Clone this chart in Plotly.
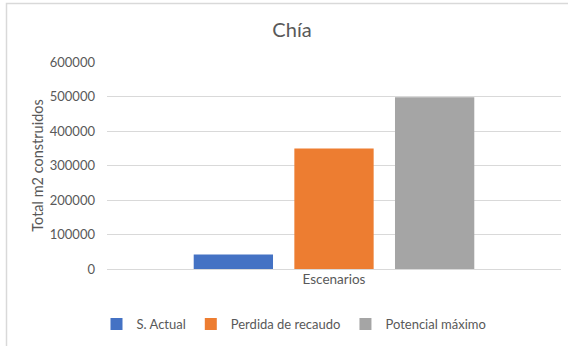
import plotly.graph_objects as go

categories = ["Escenarios"]
series_names = ["S. Actual", "Perdida de recaudo", "Potencial máximo"]
series_values = [[42000], [349000], [498000]]
colors = ["#4472C4", "#ED7D31", "#A5A5A5"]
y_ticks = [0, 100000, 200000, 300000, 400000, 500000, 600000]

W, H = 568, 346
L, R, T, B = 107, 7, 62, 77
pw, ph = W - L - R, H - T - B

FONT = "Lato"
TXT = "#595959"

fig = go.Figure()
for name, vals, c in zip(series_names, series_values, colors):
    fig.add_trace(go.Bar(x=categories, y=vals, name=name, marker=dict(color=c, line=dict(width=0))))

def px_x(x):
    return (x - L) / pw

def px_y(y):
    return (H - B - y) / ph

fig.update_layout(
    width=W, height=H,
    margin=dict(l=L, r=R, t=T, b=B, autoexpand=False),
    paper_bgcolor="white", plot_bgcolor="white",
    barmode="group", bargap=0.335, bargroupgap=0.212,
    font=dict(family=FONT, color=TXT, size=13),
    title=dict(text="Chía", x=292 / W, y=1 - 30 / H, xref="container", yref="container",
               xanchor="center", yanchor="middle", font=dict(size=20, color=TXT, family=FONT)),
    showlegend=True,
    legend=dict(orientation="h", x=294 / W, y=1 - 324 / H, xref="container", yref="container",
                xanchor="center", yanchor="middle", font=dict(size=13, color=TXT, family=FONT),
                itemwidth=30, traceorder="normal"),
    xaxis=dict(type="category", range=[-0.5, 0.5], showgrid=False, zeroline=False,
               showline=False, ticks="", tickfont=dict(size=13.5, color=TXT), fixedrange=True),
    yaxis=dict(range=[0, 600000], tickvals=y_ticks, tickformat="d", showgrid=True,
               gridcolor="#D9D9D9", gridwidth=1, zeroline=True, zerolinecolor="#D9D9D9",
               zerolinewidth=1, showline=False, ticks="", ticklabelstandoff=11,
               tickfont=dict(size=13, color=TXT),
               title=dict(text="Total m2 construidos", font=dict(size=14.5, color=TXT), standoff=2),
               automargin=False, fixedrange=True),
    shapes=[dict(type="rect", xref="paper", yref="paper",
                 x0=px_x(6.5), x1=px_x(W + 5), y0=px_y(H + 5), y1=px_y(3.5),
                 line=dict(color="#D9D9D9", width=1.5), fillcolor="rgba(0,0,0,0)", layer="below")],
)

fig.write_html("out.html", config={"displayModeBar": False},
               post_script="document.body.style.margin='0';document.body.style.overflow='hidden';")
